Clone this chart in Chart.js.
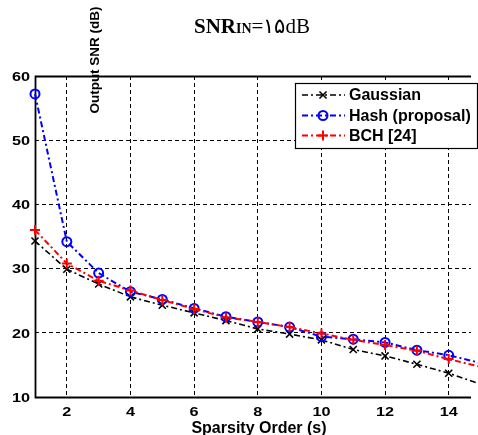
<!DOCTYPE html>
<html>
<head>
<meta charset="utf-8">
<script src="https://cdn.jsdelivr.net/npm/chart.js@4.4.0/dist/chart.umd.min.js"></script>
<style>
  html, body { margin: 0; padding: 0; background: #fff; overflow: hidden; }
  canvas { display: block; }
</style>
</head>
<body>
<canvas id="c" width="478" height="435"></canvas>
<script>
// Output SNR versus sparsity order, input SNR = 15 dB
const sparsity = [1, 2, 3, 4, 5, 6, 7, 8, 9, 10, 11, 12, 13, 14, 15];
const gaussian = [34.3, 29.9, 27.6, 25.6, 24.3, 23.1, 21.9, 20.6, 19.8, 18.9, 17.4, 16.4, 15.1, 13.7, 12.0];
const hash     = [57.2, 34.2, 29.3, 26.4, 25.2, 23.8, 22.5, 21.7, 20.9, 19.4, 19.0, 18.5, 17.3, 16.5, 15.3];
const bch      = [36.0, 30.8, 28.1, 26.6, 25.1, 23.7, 22.4, 21.7, 20.9, 19.9, 18.9, 18.1, 17.2, 15.9, 14.7];
const seriesNames = ['Gaussian', 'Hash (proposal)', 'BCH [24]'];
const xTicks = [2, 4, 6, 8, 10, 12, 14];
const yTicks = [10, 20, 30, 40, 50, 60];

const SANS = '"Liberation Sans", Arial, Helvetica, sans-serif';
const SERIF = '"Liberation Serif", "Times New Roman", "DejaVu Serif", serif';
const DASHDOT = [6, 3, 2, 3];

const styles = [
  { color: '#000000', marker: 'crossRot', radius: 5, lw: 1.6, mw: 1.6 },
  { color: '#0000ff', marker: 'circle', radius: 4.5, lw: 2, mw: 2 },
  { color: '#ff0000', marker: 'cross', radius: 5, lw: 2, mw: 2 }
];

function pts(ys) { return sparsity.map((x, i) => ({ x: x, y: ys[i] })); }

function drawMarker(ctx, kind, x, y, r) {
  ctx.beginPath();
  if (kind === 'circle') {
    ctx.arc(x, y, r, 0, Math.PI * 2);
  } else if (kind === 'cross') {
    ctx.moveTo(x - r, y); ctx.lineTo(x + r, y);
    ctx.moveTo(x, y - r); ctx.lineTo(x, y + r);
  } else {
    const d = r * Math.SQRT1_2;
    ctx.moveTo(x - d, y - d); ctx.lineTo(x + d, y + d);
    ctx.moveTo(x - d, y + d); ctx.lineTo(x + d, y - d);
  }
  ctx.stroke();
}

const decor = {
  id: 'decor',
  beforeDatasetsDraw(chart) {
    const ctx = chart.ctx, a = chart.chartArea;
    ctx.save();
    ctx.strokeStyle = '#000';
    ctx.lineWidth = 1.8;
    ctx.setLineDash([]);
    ctx.beginPath();
    ctx.moveTo(a.right, a.top + 0.5);
    ctx.lineTo(a.left + 0.5, a.top + 0.5);
    ctx.lineTo(a.left + 0.5, a.bottom + 0.5);
    ctx.lineTo(a.right, a.bottom + 0.5);
    ctx.stroke();
    ctx.restore();
  },
  afterDraw(chart) {
    const ctx = chart.ctx, a = chart.chartArea;
    const xs = chart.scales.x, ys = chart.scales.y;
    ctx.save();
    ctx.fillStyle = '#000';

    // tick labels (wide bold digits)
    ctx.font = 'bold 13px ' + SANS;
    ctx.textBaseline = 'alphabetic';
    ctx.textAlign = 'right';
    yTicks.forEach(v => {
      const y = ys.getPixelForValue(v);
      ctx.save(); ctx.translate(30, y + 4.7); ctx.scale(1.25, 1);
      ctx.fillText(String(v), 0, 0); ctx.restore();
    });
    ctx.textAlign = 'center';
    xTicks.forEach(v => {
      const x = xs.getPixelForValue(v);
      ctx.save(); ctx.translate(x, a.bottom + 19); ctx.scale(1.25, 1);
      ctx.fillText(String(v), 0, 0); ctx.restore();
    });

    // x axis title
    ctx.font = 'bold 16px ' + SANS;
    ctx.textAlign = 'center';
    ctx.fillText('Sparsity Order (s)', 259, 433);

    // y axis title
    ctx.save();
    ctx.translate(95, 60);
    ctx.rotate(-Math.PI / 2);
    ctx.font = 'bold 13.5px ' + SANS;
    ctx.textBaseline = 'middle';
    ctx.fillText('Output SNR (dB)', 0, 0);
    ctx.restore();

    // title: SNR_IN = ۱۵dB
    ctx.textAlign = 'left';
    ctx.textBaseline = 'alphabetic';
    const base = 33;
    let tx = 194;
    const runs = [
      ['SNR', 'bold 21px ' + SERIF],
      ['IN', 'bold 14px ' + SERIF],
      ['=', '21px ' + SERIF],
      ['\u06F1\u06F5', '21px ' + SERIF],
      ['dB', '21px ' + SERIF]
    ];
    runs.forEach(([t, f]) => {
      ctx.font = f;
      ctx.fillText(t, tx, base);
      tx += ctx.measureText(t).width;
    });

    // legend
    const L = 295.5, T = 83.5, R = 477.5, B = 148.5;
    ctx.fillStyle = '#fff';
    ctx.fillRect(L, T, R - L, B - T);
    ctx.strokeStyle = '#000';
    ctx.lineWidth = 1.2;
    ctx.setLineDash([]);
    ctx.strokeRect(L, T, R - L, B - T);
    const rows = [95, 115.5, 135.5];
    ctx.font = 'bold 16px ' + SANS;
    ctx.textBaseline = 'middle';
    seriesNames.forEach((name, i) => {
      const s = styles[i], y = rows[i];
      ctx.strokeStyle = s.color;
      ctx.lineWidth = s.lw;
      ctx.setLineDash(DASHDOT);
      ctx.beginPath(); ctx.moveTo(302, y); ctx.lineTo(345, y); ctx.stroke();
      ctx.setLineDash([]);
      ctx.lineWidth = s.mw;
      drawMarker(ctx, s.marker, 323, y, s.radius);
      ctx.fillStyle = '#000';
      ctx.fillText(name, 349, y + 1);
    });
    ctx.restore();
  }
};

const seriesData = [gaussian, hash, bch];
const datasets = seriesData.map((d, i) => ({
  label: seriesNames[i],
  data: pts(d),
  borderColor: styles[i].color,
  borderWidth: styles[i].lw,
  borderDash: DASHDOT,
  pointStyle: styles[i].marker,
  pointRadius: styles[i].radius,
  pointBorderWidth: styles[i].mw,
  pointBorderColor: styles[i].color,
  pointBackgroundColor: 'rgba(0,0,0,0)',
  fill: false,
  tension: 0,
  clip: false,
  order: 3 - i
}));

new Chart(document.getElementById('c'), {
  type: 'line',
  data: { datasets: datasets },
  options: {
    responsive: false,
    animation: false,
    devicePixelRatio: 1,
    layout: { padding: { top: 76, left: 0, right: 0, bottom: 0 } },
    plugins: { legend: { display: false }, title: { display: false }, tooltip: { enabled: false } },
    scales: {
      x: {
        type: 'linear', min: 1, max: 14.7,
        afterBuildTicks: s => { s.ticks = xTicks.map(v => ({ value: v })); },
        afterFit: s => { s.height = 38; },
        ticks: { display: false },
        grid: { color: '#000', lineWidth: 1, drawTicks: false },
        border: { display: false, dash: [4, 3] }
      },
      y: {
        type: 'linear', min: 10, max: 60,
        afterBuildTicks: s => { s.ticks = yTicks.map(v => ({ value: v })); },
        afterFit: s => { s.width = 35; },
        ticks: { display: false },
        grid: { color: '#000', lineWidth: 1, drawTicks: false },
        border: { display: false, dash: [4, 3] }
      }
    }
  },
  plugins: [decor]
});
</script>
</body>
</html>
